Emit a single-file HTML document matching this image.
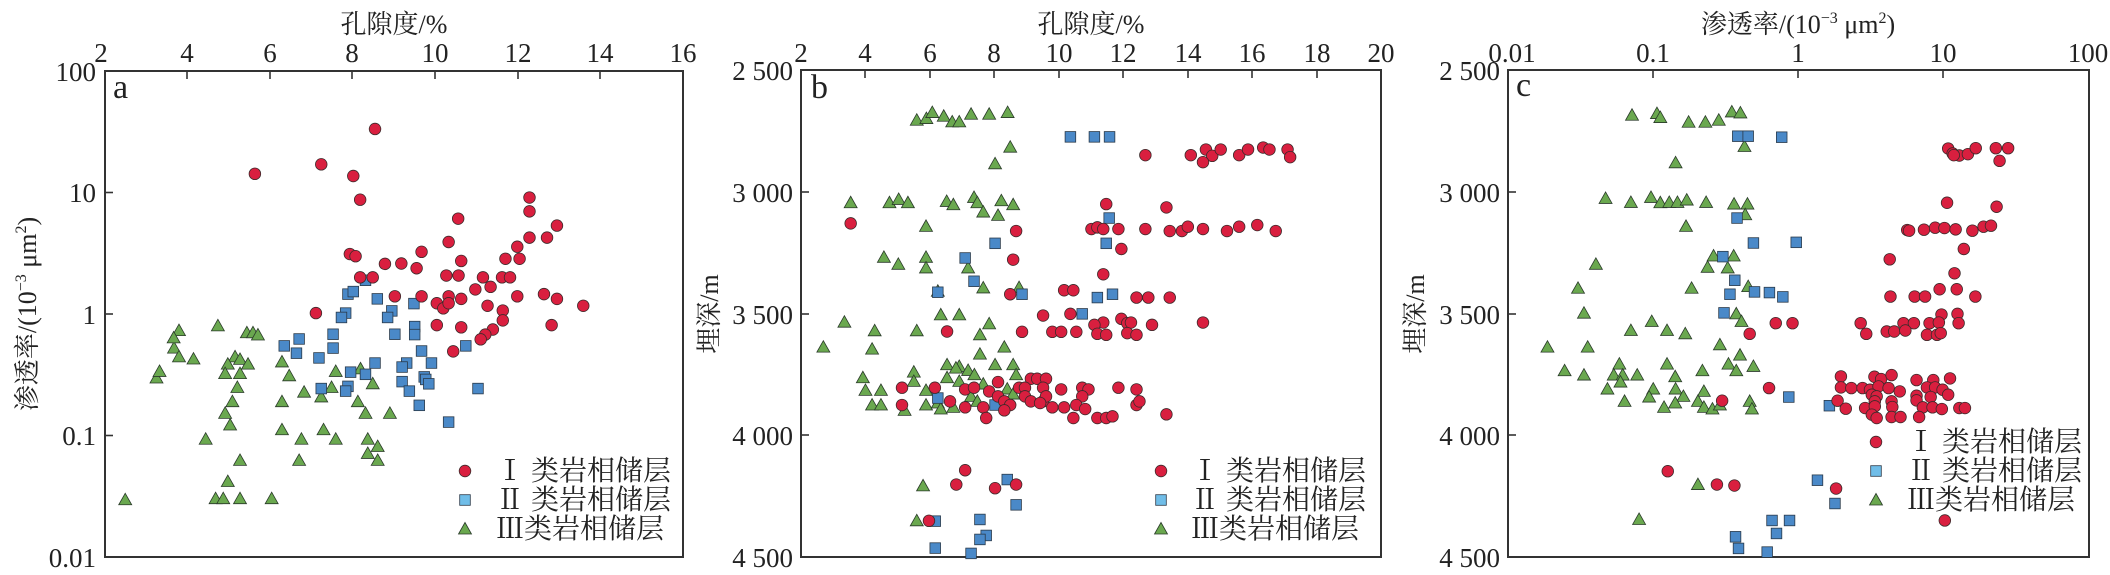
<!DOCTYPE html>
<html><head><meta charset="utf-8">
<style>
html,body{margin:0;padding:0;background:#fff;}
svg{display:block;}
text{font-family:"Liberation Serif","Noto Serif CJK SC","Noto Sans CJK SC",serif;fill:#222;}
.t{font-size:27px;}
.ti{font-size:26px;}
.lg{font-size:28px;}
.pl{font-size:34px;}
</style></head>
<body>
<svg id="s" width="2110" height="575" viewBox="0 0 2110 575" xmlns="http://www.w3.org/2000/svg">
<g fill="none" stroke="#333" stroke-width="2">
<rect x="105" y="71" width="578" height="486"/>
<rect x="801" y="70" width="580" height="487"/>
<rect x="1508" y="70" width="581" height="487"/>
</g>
<g id="ticks" stroke="#333" stroke-width="1.6"></g>
<!-- panel a -->
<text class="ti" x="394" y="33" text-anchor="middle">孔隙度/%</text>
<g class="t" text-anchor="middle">
<text x="101" y="62">2</text><text x="187" y="62">4</text><text x="270" y="62">6</text><text x="352" y="62">8</text><text x="435" y="62">10</text><text x="518" y="62">12</text><text x="600" y="62">14</text><text x="683" y="62">16</text>
</g>
<g class="t" text-anchor="end">
<text x="96" y="81">100</text><text x="96" y="202">10</text><text x="96" y="324">1</text><text x="96" y="445">0.1</text><text x="96" y="567">0.01</text>
</g>
<text class="ti" transform="translate(36,314) rotate(-90)" text-anchor="middle">渗透率/(10<tspan font-size="16" dy="-10">−3</tspan><tspan dy="10"> μm</tspan><tspan font-size="16" dy="-10">2</tspan><tspan dy="10">)</tspan></text>
<text class="pl" x="113" y="98">a</text>
<!-- panel b -->
<text class="ti" x="1091" y="33" text-anchor="middle">孔隙度/%</text>
<g class="t" text-anchor="middle">
<text x="801" y="62">2</text><text x="865" y="62">4</text><text x="930" y="62">6</text><text x="994" y="62">8</text><text x="1059" y="62">10</text><text x="1123" y="62">12</text><text x="1188" y="62">14</text><text x="1252" y="62">16</text><text x="1317" y="62">18</text><text x="1381" y="62">20</text>
</g>
<g class="t" text-anchor="end">
<text x="793" y="80">2 500</text><text x="793" y="202">3 000</text><text x="793" y="324">3 500</text><text x="793" y="445">4 000</text><text x="793" y="567">4 500</text>
</g>
<text class="ti" transform="translate(718,314) rotate(-90)" text-anchor="middle">埋深/m</text>
<text class="pl" x="811" y="98">b</text>
<!-- panel c -->
<text class="ti" x="1798" y="33" text-anchor="middle">渗透率/(10<tspan font-size="16" dy="-10">−3</tspan><tspan dy="10"> μm</tspan><tspan font-size="16" dy="-10">2</tspan><tspan dy="10">)</tspan></text>
<g class="t" text-anchor="middle">
<text x="1512" y="62">0.01</text><text x="1653" y="62">0.1</text><text x="1798" y="62">1</text><text x="1943" y="62">10</text><text x="2088" y="62">100</text>
</g>
<g class="t" text-anchor="end">
<text x="1500" y="80">2 500</text><text x="1500" y="202">3 000</text><text x="1500" y="324">3 500</text><text x="1500" y="445">4 000</text><text x="1500" y="567">4 500</text>
</g>
<text class="ti" transform="translate(1424,314) rotate(-90)" text-anchor="middle">埋深/m</text>
<text class="pl" x="1516" y="96">c</text>
<g id="pts"></g>
<!-- legends -->
<g class="lg">
<text x="496" y="480">Ⅰ 类岩相储层</text><text x="496" y="509">Ⅱ 类岩相储层</text><text x="496" y="538">Ⅲ类岩相储层</text>
<text x="1191" y="480">Ⅰ 类岩相储层</text><text x="1191" y="509">Ⅱ 类岩相储层</text><text x="1191" y="538">Ⅲ类岩相储层</text>
<text x="1907" y="451">Ⅰ 类岩相储层</text><text x="1907" y="480">Ⅱ 类岩相储层</text><text x="1907" y="509">Ⅲ类岩相储层</text>
</g>
</svg>
<script>
var NS="http://www.w3.org/2000/svg";
var g=document.getElementById('pts'),tk=document.getElementById('ticks');
function el(n,a,p){var e=document.createElementNS(NS,n);for(var k in a)e.setAttribute(k,a[k]);(p||g).appendChild(e);return e;}
var R="#d91f3f",B="#4a89c8",G="#6aa84f",LB="#70bde8";
function circ(x,y,c){el('circle',{cx:x,cy:y,r:5.8,fill:c||R,stroke:'#3a2a2a','stroke-width':0.8});}
function sq(x,y,c){el('rect',{x:x-5.3,y:y-5.3,width:10.6,height:10.6,fill:c||B,stroke:'#2a3a4a','stroke-width':0.8});}
function tri(x,y,c){el('polygon',{points:(x-6.5)+','+(y+5)+' '+(x+6.5)+','+(y+5)+' '+x+','+(y-6.5),fill:c||G,stroke:'#2a3a2a','stroke-width':0.8});}
function line(x1,y1,x2,y2){el('line',{x1:x1,y1:y1,x2:x2,y2:y2},tk);}
[187,270,352,435,518,600].forEach(function(x){line(x,71,x,79);});
[192.5,314,435.5].forEach(function(y){line(105,y,113,y);});
[865,930,994,1059,1123,1188,1252,1317].forEach(function(x){line(x,70,x,78);});
[192,314,435].forEach(function(y){line(801,y,809,y);line(1508,y,1516,y);});
[1653,1798,1943].forEach(function(x){line(x,70,x,78);});
function A(p){return [105+(p[0]-275)*578/1515.5, 71+(p[1]-188)*486/1333];}
function Bm(p){return [801+(p[0]-3.5)*0.3693, 70+(p[1]-29)*0.3327];}
function Cm(p){return [1508+(p[0]-3)*0.3724, 70+(p[1]-29)*0.3327];}
function draw(arr,map,f){arr.forEach(function(p){var q=map(p);f(q[0],q[1]);});}
var aR=[[668,470],[842,444],[926,476],[944,541],[983,347],[1388,535],[1388,573],[1460,612],[1388,645],[1434,645],[1201,593],[1176,657],[1105,684],[917,690],[932,696],[1009,717],[1052,716],[1092,729],[1209,709],[1325,703],[1356,670],[1362,703],[944,754],[977,754],[1170,749],[1202,749],[1266,754],[1316,754],[1337,754],[1246,787],[1286,780],[1035,806],[1105,806],[1176,806],[1209,813],[1356,806],[1426,800],[1460,813],[1529,832],[828,852],[1145,825],[1162,839],[1176,825],[1278,832],[1318,845],[1318,872],[1145,885],[1209,891],[1446,885],[1292,897],[1272,911],[1260,924],[1188,957]];
var aB=[[958,762],[912,800],[926,793],[989,813],[1085,826],[906,852],[895,864],[1027,846],[1016,864],[1087,889],[1087,911],[1035,910],[873,910],[784,923],[745,942],[777,962],[873,948],[1105,956],[1221,942],[836,975],[983,989],[1131,989],[1066,989],[1054,1000],[919,1014],[958,1020],[1112,1027],[1116,1034],[1124,1046],[1054,1040],[912,1053],[842,1059],[906,1066],[1073,1066],[1099,1105],[1253,1059],[1176,1151]];
var aG=[[328,1364],[410,1030],[418,1012],[456,948],[469,900],[455,920],[469,972],[507,978],[571,887],[616,972],[629,979],[597,992],[590,1018],[629,1018],[650,992],[647,906],[663,906],[676,912],[739,986],[758,1024],[622,1056],[609,1095],[590,1127],[603,1159],[539,1198],[629,1256],[597,1314],[565,1361],[585,1361],[629,1361],[712,1361],[739,1095],[739,1172],[790,1198],[784,1256],[848,1172],[880,1198],[880,1012],[842,1082],[869,1056],[797,1069],[938,1095],[945,1005],[958,1127],[977,1046],[1022,1127],[964,1198],[964,1237],[990,1218],[990,1256]];
draw(aG,A,tri);draw(aB,A,sq);draw(aR,A,circ);
var bG=[[317,180],[343,175],[359,157],[390,168],[413,185],[432,185],[464,162],[513,162],[563,157],[570,261],[529,311],[138,428],[243,428],[268,418],[293,428],[398,424],[416,434],[472,412],[481,428],[546,422],[578,434],[497,456],[537,466],[342,499],[228,592],[267,613],[342,592],[342,624],[456,624],[374,694],[497,684],[594,683],[121,787],[203,813],[317,813],[382,765],[432,765],[513,792],[488,825],[64,862],[196,868],[554,862],[488,883],[399,915],[432,920],[529,915],[578,915],[309,937],[423,925],[456,932],[473,945],[171,954],[399,954],[432,965],[586,945],[309,965],[497,973],[178,992],[220,992],[342,992],[562,988],[464,1010],[578,1003],[196,1036],[220,1036],[342,1036],[374,1030],[481,1025],[416,1043],[284,1052],[382,1048],[334,1279],[317,1384]];
var bB=[[733,230],[798,230],[839,230],[838,474],[529,550],[830,550],[448,594],[472,664],[374,697],[602,703],[806,713],[847,703],[765,762],[374,1015],[529,1036],[562,1260],[586,1336],[367,1385],[488,1380],[505,1428],[488,1440],[367,1466],[464,1482]];
var bR=[[936,285],[1059,285],[1100,268],[1117,287],[1092,306],[1140,268],[1190,285],[1214,268],[1255,262],[1272,268],[1321,268],[1328,291],[830,432],[993,442],[138,490],[586,513],[790,507],[806,502],[822,507],[863,507],[936,507],[1002,513],[1035,513],[1051,500],[1092,507],[1157,513],[1190,500],[1239,495],[1289,513],[871,567],[578,599],[822,643],[716,691],[741,691],[570,703],[912,713],[944,713],[1002,713],[659,767],[733,762],[871,777],[887,790],[897,788],[822,788],[798,795],[954,795],[1092,788],[399,815],[602,816],[684,816],[708,816],[749,816],[806,822],[830,825],[887,820],[912,825],[626,957],[643,957],[667,957],[537,967],[277,984],[366,984],[448,989],[472,984],[513,995],[594,984],[610,984],[659,984],[708,989],[765,984],[782,989],[863,984],[912,989],[537,1010],[554,1025],[610,1010],[626,1025],[659,1025],[667,1010],[765,1010],[912,1036],[920,1025],[277,1036],[407,1025],[448,1043],[497,1043],[570,1036],[651,1030],[684,1043],[716,1043],[749,1036],[773,1048],[505,1075],[554,1052],[741,1075],[806,1075],[830,1075],[847,1070],[993,1064],[448,1232],[424,1275],[529,1286],[586,1275],[350,1384]];
draw(bG,Bm,tri);draw(bB,Bm,sq);draw(bR,Bm,circ);
var cG=[[336,165],[403,160],[412,172],[488,186],[533,186],[569,180],[604,155],[627,158],[638,259],[453,308],[265,415],[333,427],[387,412],[412,428],[436,427],[458,427],[483,420],[535,427],[610,432],[646,432],[640,464],[481,499],[239,613],[555,588],[609,588],[539,622],[593,624],[191,685],[496,685],[648,680],[207,760],[389,785],[333,812],[430,812],[479,822],[616,762],[630,785],[109,862],[217,862],[572,855],[626,886],[302,913],[430,913],[595,913],[662,920],[155,933],[207,946],[287,946],[311,946],[350,946],[452,951],[525,933],[616,933],[305,967],[270,988],[393,988],[453,988],[529,995],[382,1012],[474,1010],[513,1025],[316,1025],[422,1043],[452,1030],[529,1043],[552,1048],[572,1036],[652,1025],[658,1048],[513,1275],[355,1380]];
var cB=[[620,228],[648,228],[738,231],[618,474],[662,549],[777,547],[580,590],[612,661],[599,703],[665,696],[705,698],[741,711],[583,759],[757,1012],[866,1038],[834,1262],[881,1332],[712,1383],[759,1383],[724,1422],[614,1432],[622,1467],[699,1478]];
var cR=[[1185,265],[1197,280],[1215,286],[1238,282],[1259,264],[1313,264],[1346,264],[1323,302],[1200,285],[1182,428],[1315,440],[1075,510],[1080,512],[1120,509],[1150,503],[1175,504],[1205,508],[1250,512],[1280,500],[1300,497],[1227,567],[1028,598],[1202,640],[1030,710],[1095,710],[1123,710],[1162,688],[1208,688],[1258,710],[1167,764],[1210,762],[950,790],[1065,790],[1093,790],[1135,790],[1160,788],[1213,790],[722,790],[767,790],[652,822],[965,822],[1020,815],[1040,815],[1070,812],[1128,825],[1155,825],[1165,820],[897,950],[987,951],[1005,958],[1033,946],[1100,961],[1145,961],[1190,956],[897,983],[925,985],[955,985],[975,990],[998,980],[1025,985],[1055,995],[1128,983],[1150,983],[1170,990],[704,985],[980,1005],[993,1010],[1100,1008],[1138,1012],[1185,1005],[888,1023],[988,1025],[1033,1025],[1100,1022],[578,1023],[910,1047],[962,1045],[988,1040],[1035,1042],[1117,1043],[1143,1043],[1168,1048],[1215,1045],[1230,1045],[980,1065],[993,1075],[1033,1072],[1057,1072],[1107,1072],[432,1235],[564,1275],[611,1278],[884,1287],[1176,1383]];
draw(cG,Cm,tri);draw(cB,Cm,sq);draw(cR,Cm,circ);
circ(465,471);sq(465,500,LB);tri(465,529);
circ(1161,471);sq(1161,500,LB);tri(1161,529);
circ(1876,442);sq(1876,471,LB);tri(1876,500);
</script>
</body></html>
